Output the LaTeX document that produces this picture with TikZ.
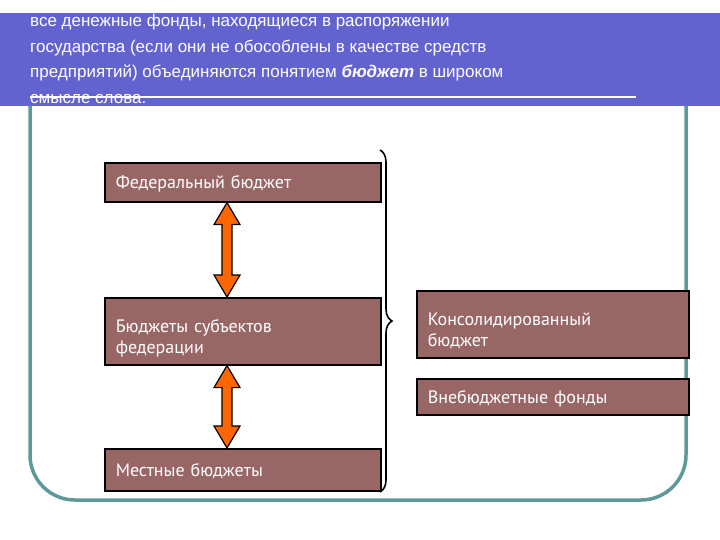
\documentclass[tikz,border=0pt]{standalone}
\usepackage{fontspec}
\setmainfont{Liberation Sans}
\newfontfamily\boxfont{PT Sans}
\usetikzlibrary{decorations.pathreplacing,calc}
\definecolor{band}{HTML}{6363CF}
\definecolor{frame}{HTML}{5F9899}
\definecolor{boxfill}{HTML}{996666}
\definecolor{arr}{HTML}{FF6600}
\tikzset{
  bbox/.style={draw=black,line width=1.6pt,fill=boxfill,text=white,font=\boxfont\fontsize{18}{21}\selectfont,align=left,anchor=north west,inner sep=0pt,text depth=0pt},
  dbl/.style={draw=black,line width=1.2pt,fill=arr}
}
\begin{document}
\begin{tikzpicture}[x=1pt,y=-1pt]
\useasboundingbox (0,0) rectangle (720,540);
\fill[white] (0,0) rectangle (720,540);
\draw[frame,line width=3.5pt,rounded corners=45pt] (30,60) rectangle (686,500);
\fill[band] (0,13) rectangle (720,106);
\draw[white,line width=2pt] (30,97) -- (636,97);
\node[anchor=north west,text=white,align=left,font=\fontsize{17}{25.5}\selectfont,inner sep=0pt] (title) at (30,14)
 {все денежные фонды, находящиеся в распоряжении\\государства (если они не обособлены в качестве средств\\предприятий) объединяются понятием \textbf{\textit{бюджет}} в широком\\смысле слова.};
\node[bbox,minimum width=276pt,minimum height=39pt,text width=268pt] (fed) at (104,162) {\hspace{7pt}Федеральный бюджет};
\node[bbox,minimum width=276pt,minimum height=67pt,text width=268pt] (sub) at (104,297) {\hspace{7pt}\parbox{260pt}{Бюджеты субъектов\\федерации}};
\node[bbox,minimum width=276pt,minimum height=42pt,text width=268pt] (loc) at (104,448) {\hspace{7pt}Местные бюджеты};
\node[bbox,minimum width=272pt,minimum height=67pt,text width=264pt] (kons) at (416,290) {\hspace{7pt}\parbox{255pt}{Консолидированный\\бюджет}};
\node[bbox,minimum width=272pt,minimum height=36pt,text width=264pt] (vne) at (416,378) {\hspace{7pt}Внебюджетные фонды};
% double arrows
\foreach \a/\b in {fed/sub,sub/loc}{
  \path (\a.south -| 227,0) coordinate (p1) (\b.north -| 227,0) coordinate (p2);
  \draw[dbl] (p1) -- ++(13,22) -- ++(-8,0) |- ($(p2)+(5,-22)$) -- ++(8,0) -- (p2) -- ++(-13,-22) -- ++(8,0) |- ($(p1)+(-5,22)$) -- ++(-8,0) -- cycle;
}
\coordinate (bt) at (380,150);
\coordinate (bb) at (380,492);
\draw[black,line width=1.6pt,decorate,decoration={brace,amplitude=12pt,aspect=0.5}] (bt) -- (bb);
\end{tikzpicture}
\end{document}
